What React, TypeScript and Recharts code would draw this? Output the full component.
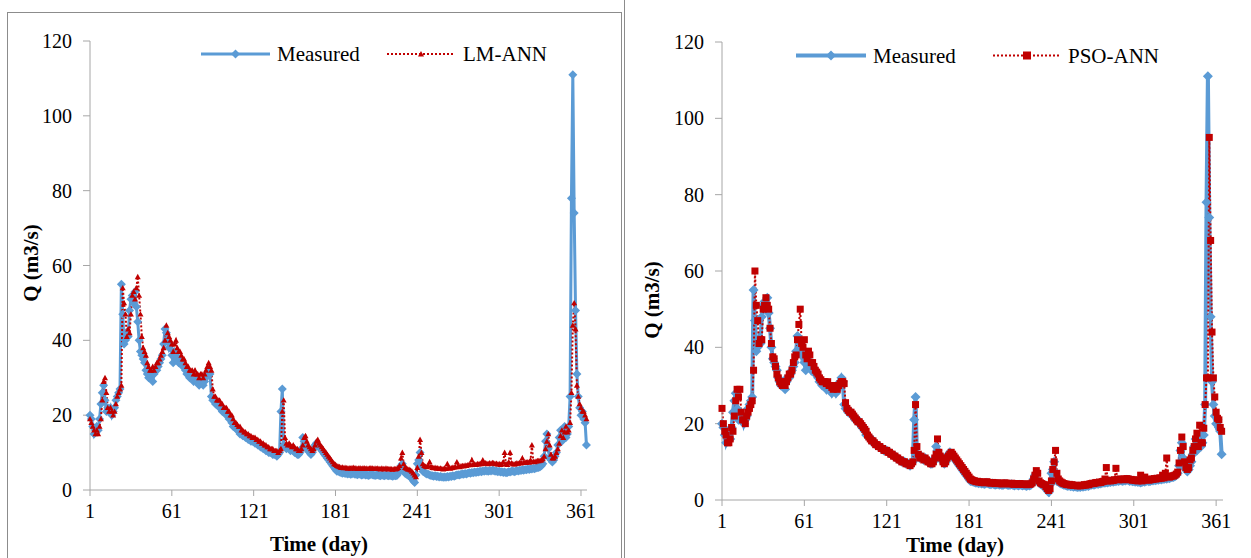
import React from 'react';
import { LineChart, Line, XAxis, YAxis } from 'recharts';

// Daily discharge (m3/s), day 1..365
const measured: number[] = [
  20, 19, 17, 15, 16, 17, 16, 19, 23, 26,
  28, 24, 21, 22, 21, 22, 20, 21, 22, 24,
  25, 26, 27, 55, 47, 39, 40, 42, 41, 48,
  51, 52, 50, 53, 49, 45, 40, 37, 36, 35,
  34, 32, 31, 30, 30, 31, 29, 31, 32, 32,
  33, 34, 35, 36, 39, 43, 42, 40, 38, 39,
  36, 34, 37, 36, 35, 34, 35, 34, 33, 33,
  32, 31, 31, 30, 30, 30, 29, 30, 29, 29,
  28, 29, 29, 28, 29, 30, 31, 32, 31, 25,
  24, 24, 23, 23, 23, 22, 22, 21, 21, 21,
  20, 20, 19, 19, 18, 17, 17, 16.5, 16, 16,
  15, 15, 14.5, 14.5, 14, 14, 13.5, 13.5, 13, 13,
  13, 12.5, 12.5, 12, 12, 11.5, 11.5, 11, 11, 10.5,
  10.5, 10, 10, 10, 9.5, 9.5, 9.5, 9, 9.5, 10,
  21, 27, 12, 11.5, 11, 11.5, 11, 10.5, 11, 10.5,
  10, 10, 9.5, 9.5, 10, 11, 14, 13, 12, 11,
  10.5, 10, 9.5, 10, 11, 12, 12.5, 12, 11.5, 11,
  10.5, 10, 9.5, 9, 8.5, 8, 7.5, 7, 6.5, 6,
  5.5, 5, 5, 4.8, 4.7, 4.5, 4.6, 4.4, 4.5, 4.3,
  4.4, 4.2, 4.3, 4.5, 4.3, 4.2, 4.1, 4.3, 4.2, 4.0,
  4.1, 4.2, 4.0, 4.1, 3.9, 4.0, 4.2, 4.1, 4.0, 3.9,
  4.0, 4.1, 3.9, 3.8, 4.0, 3.9, 3.8, 4.0, 3.9, 3.8,
  3.9, 3.8, 3.7, 3.9, 3.8, 3.9, 4.5, 5.5, 6.5, 7,
  5, 4.5, 4.2, 4, 3.8, 3.5, 3, 2.5, 2, 4,
  7, 8, 10, 6, 5, 4.8, 4.5, 4.3, 4.2, 4.0,
  3.9, 3.8, 3.7, 3.8, 3.6, 3.7, 3.5, 3.6, 3.5, 3.4,
  3.5, 3.4, 3.6, 3.5, 3.7, 3.6, 3.8, 3.7, 3.9, 4.0,
  4.1, 4.0, 4.2, 4.3, 4.2, 4.4, 4.3, 4.5, 4.6, 4.5,
  4.7, 4.6, 4.8, 4.7, 4.9, 4.8, 5.0, 4.9, 5.1, 5.0,
  5.2, 5.1, 5.0, 5.2, 5.1, 5.3, 5.2, 5.0, 5.1, 4.9,
  5.0, 4.8, 4.9, 4.7, 4.8, 4.6, 4.7, 4.9, 4.8, 5.0,
  5.1, 4.9, 5.0, 5.2, 5.1, 5.3, 5.2, 5.4, 5.3, 5.5,
  5.4, 5.6, 5.5, 5.7, 5.6, 5.8, 5.7, 5.9, 6.0, 6.0,
  6.2, 6.5, 7, 9, 13, 15, 11, 8.5, 8, 7.5,
  8, 9, 10, 12, 14, 16, 13, 15, 17, 14,
  15, 17, 25, 78, 111, 74, 48, 31, 25, 22,
  20, 21, 19, 18, 12,
];

const lmAnn: number[] = [
  19, 18, 17, 16, 15, 16, 15, 17, 19, 24,
  29, 30, 26, 22, 21, 22, 21, 20, 21, 23,
  25, 26, 27, 28, 54, 50, 47, 41, 43, 42,
  47, 52, 53, 51, 54, 57, 52, 47, 41, 38,
  37, 36, 34, 33, 32, 32, 33, 32, 33, 34,
  34, 35, 36, 37, 38, 40, 44, 42, 41, 40,
  39, 37, 39, 40, 38, 37, 37, 36, 35, 35,
  34, 33, 33, 32, 32, 32, 31, 32, 31, 31,
  30, 31, 31, 30, 31, 32, 33, 34, 33, 32,
  27, 25, 25, 24, 24, 24, 23, 23, 22, 22,
  22, 21, 21, 20, 20, 19, 18, 18, 17.5, 17,
  17, 16, 16, 15.5, 15.5, 15, 15, 14.5, 14.5, 14,
  14, 14, 13.5, 13.5, 13, 13, 12.5, 12.5, 12, 12,
  11.5, 11.5, 11, 11, 11, 10.5, 10.5, 10.5, 10, 10.5,
  11, 21, 24, 14, 12.5, 12, 12.5, 12, 11.5, 12,
  11.5, 11, 11, 10.5, 10.5, 11, 12, 14, 14.5, 13,
  12, 11.5, 11, 10.5, 11, 12, 13, 13.5, 12.5, 12,
  11.5, 11, 10.5, 10, 9.5, 9, 8.5, 8, 7.5, 7,
  6.8, 6.5, 6.3, 6.2, 6.0, 6.1, 5.9, 6.0, 5.9, 5.8,
  5.9, 5.8, 5.9, 6.0, 5.8, 5.9, 5.7, 5.8, 5.9, 5.7,
  5.8, 5.9, 5.7, 5.8, 5.7, 5.8, 5.9, 5.8, 5.7, 5.8,
  5.7, 5.8, 5.7, 5.6, 5.8, 5.7, 5.6, 5.8, 5.7, 5.6,
  5.7, 5.6, 5.5, 5.7, 5.6, 5.7, 6.0, 6.5, 8.5, 10,
  7, 6, 5.8, 5.6, 5.5, 5.3, 5, 4.5, 4, 3.5,
  6, 9, 13.5, 10, 7, 6.5, 6.3, 6.2, 6.5, 7.5,
  6.3, 6.0, 5.9, 6.0, 5.8, 5.9, 5.7, 5.8, 5.7, 5.6,
  5.8, 5.7, 7, 6.0, 5.8, 5.9, 6.0, 6.1, 6.2, 7.5,
  6.3, 6.2, 6.4, 6.5, 6.4, 6.6, 6.5, 6.7, 6.8, 6.7,
  8, 6.8, 6.9, 6.8, 7.0, 6.9, 7.1, 7.0, 8, 7.1,
  7.2, 7.1, 7.0, 7.2, 7.1, 7.3, 7.2, 7.0, 7.1, 6.9,
  7.0, 6.8, 6.9, 7.5, 10, 7.0, 6.8, 7.5, 10, 7.2,
  7.0, 6.9, 7.0, 7.2, 7.1, 7.3, 7.2, 8.5, 7.3, 7.4,
  7.4, 7.5, 7.4, 8, 12, 7.6, 7.5, 7.7, 7.8, 7.8,
  7.9, 8, 8.3, 9, 11, 13, 15, 12, 9.5, 8.5,
  8.5, 9, 10, 11, 12.5, 14.5, 16, 14, 15.5, 17,
  15.5, 16, 18, 26, 44, 50, 43, 28, 25, 23,
  22, 21, 21, 20, 19,
];

const psoAnn: number[] = [
  24, 20, 18, 17, 15, 15, 16, 19, 18, 22,
  26, 29, 27, 29, 23, 21, 21, 20, 22, 23,
  24, 25, 26, 34, 60, 51, 47, 41, 42, 42,
  50, 51, 53, 51, 50, 45, 41, 37.5, 37, 35,
  33, 32, 31, 30.5, 30, 31, 30, 31, 32, 33,
  33, 34, 36, 37.5, 38, 42, 46, 50, 41, 40,
  42, 38, 37, 39, 38, 36, 36, 35, 34, 33.5,
  33, 32, 31.5, 31, 31, 31, 30.5, 31, 30, 30,
  29.5, 29, 30, 29.5, 29, 30, 30.5, 31, 31, 30.5,
  25.5, 24, 23.5, 23, 23, 22.5, 22, 21.5, 21, 20.5,
  20.5, 20, 19.5, 19, 18.5, 18, 17, 16.5, 16, 15.5,
  15.5, 15, 14.5, 14.5, 14, 14, 13.5, 13.5, 13, 13,
  13, 12.5, 12.5, 12, 12, 11.5, 11.5, 11, 11, 10.5,
  10.5, 10, 10, 10, 9.5, 9.5, 9.5, 9, 9.5, 10,
  13, 25, 14, 12, 11, 11.5, 11, 10.5, 11, 10.5,
  10, 10, 9.5, 9.5, 10, 11, 12, 16, 12.5, 11.5,
  11, 10, 9.5, 10, 11, 11.5, 12, 12.5, 12, 11.5,
  11, 10.5, 10, 9.5, 9, 8.5, 8, 7.5, 7, 6.5,
  6, 5.5, 5.3, 5.1, 5, 4.8, 4.9, 4.7, 4.8, 4.6,
  4.7, 4.5, 4.6, 4.8, 4.6, 4.5, 4.4, 4.6, 4.5, 4.3,
  4.4, 4.5, 4.3, 4.4, 4.2, 4.3, 4.5, 4.4, 4.3, 4.2,
  4.3, 4.4, 4.2, 4.1, 4.3, 4.2, 4.1, 4.3, 4.2, 4.1,
  4.2, 4.1, 4.0, 4.2, 4.1, 4.2, 4.5, 5.5, 6.5, 7.7,
  7, 5, 4.5, 4.3, 4.1, 4.0, 3.5, 3, 2.5, 3,
  5, 8, 10, 13, 7, 5.5, 5, 4.7, 4.5, 4.3,
  4.2, 4.1, 4.0, 4.1, 3.9, 4.0, 3.8, 3.9, 3.8, 3.7,
  3.8, 3.7, 3.9, 3.8, 4.0, 3.9, 4.1, 4.0, 4.2, 4.3,
  4.4, 4.3, 4.5, 4.6, 4.5, 4.7, 4.6, 4.8, 4.9, 5.5,
  8.5, 5.0, 5.1, 5.0, 5.2, 5.1, 5.3, 8.3, 5.4, 5.3,
  5.5, 5.4, 5.3, 5.5, 5.4, 5.6, 5.5, 5.3, 5.4, 5.2,
  5.3, 5.1, 5.2, 5.0, 5.1, 6.5, 5.0, 5.2, 6.0, 5.3,
  5.4, 5.2, 5.3, 5.5, 5.4, 5.6, 5.5, 5.7, 5.6, 5.8,
  5.7, 6.5, 5.8, 7, 11, 6.1, 6.0, 6.2, 6.3, 6.3,
  6.5, 6.8, 7.3, 9.7, 13, 16.5, 14, 10, 8.5, 8,
  8.5, 10.5, 11, 13, 14, 16, 17.5, 14, 19.6, 15,
  15, 18.8, 25, 32, 32, 95, 68, 44, 32, 27,
  23, 21.4, 21, 19, 18,
];

const xTicks = [1, 61, 121, 181, 241, 301, 361];
const yTicks = [0, 20, 40, 60, 80, 100, 120];

const leftData = measured.map((m, i) => ({ day: i + 1, measured: m, model: lmAnn[i] }));
const rightData = measured.map((m, i) => ({ day: i + 1, measured: m, model: psoAnn[i] }));

const BLUE = '#5b9bd5';
const RED = '#c00000';
const AXIS = '#a6a6a6';
const FONT = 'Liberation Serif';

const diamondDot = (r: number) => (props: any) => {
  const { cx, cy, index } = props;
  if (cx == null || cy == null || isNaN(cy)) return <g key={`d-${index}`} />;
  return (
    <path
      key={`d-${index}`}
      d={`M${cx},${cy - r}L${cx + r},${cy}L${cx},${cy + r}L${cx - r},${cy}Z`}
      fill={BLUE}
    />
  );
};

const triangleDot = (r: number) => (props: any) => {
  const { cx, cy, index } = props;
  if (cx == null || cy == null || isNaN(cy)) return <g key={`t-${index}`} />;
  return (
    <path
      key={`t-${index}`}
      d={`M${cx},${cy - r}L${cx + r},${cy + r * 0.8}L${cx - r},${cy + r * 0.8}Z`}
      fill={RED}
    />
  );
};

const squareDot = (s: number) => (props: any) => {
  const { cx, cy, index } = props;
  if (cx == null || cy == null || isNaN(cy)) return <g key={`s-${index}`} />;
  return <rect key={`s-${index}`} x={cx - s} y={cy - s} width={2 * s} height={2 * s} fill={RED} />;
};

const XTick = (props: any) => {
  const { x, y, payload } = props;
  return (
    <text x={x} y={y} dy="0.71em" textAnchor="middle" fill="#000" fontSize={20} fontFamily={FONT} style={{ fontFamily: FONT }}>
      {payload.value}
    </text>
  );
};

const YTick = (props: any) => {
  const { x, y, payload } = props;
  return (
    <text x={x} y={y} dy="0.355em" textAnchor="end" fill="#000" fontSize={20} fontFamily={FONT} style={{ fontFamily: FONT }}>
      {payload.value}
    </text>
  );
};

export default function App() {
  return (
    <div style={{ position: 'absolute', left: 0, top: 0, width: 1251, height: 558, overflow: 'hidden', background: '#fff', fontFamily: FONT }}>
      {/* frames */}
      <div style={{ position: 'absolute', left: 7, top: 12, width: 613, height: 600, border: '1px solid #8c8c8c' }} />
      <div style={{ position: 'absolute', left: 624, top: -5, width: 700, height: 620, border: '1px solid #8c8c8c' }} />

      {/* Left chart */}
      <div style={{ position: 'absolute', left: 0, top: 0 }}>
        <LineChart width={620} height={558} data={leftData} margin={{ top: 41, right: 33, bottom: 38, left: 30 }}>
          <XAxis
            dataKey="day"
            type="number"
            domain={[1, 365.4]}
            ticks={xTicks}
            interval={0}
            axisLine={{ stroke: AXIS }}
            tickLine={{ stroke: AXIS }}
            tickSize={6}
            tickMargin={8}
            tick={<XTick />}
            height={30}
          />
          <YAxis
            type="number"
            domain={[0, 120]}
            ticks={yTicks}
            interval={0}
            axisLine={{ stroke: AXIS }}
            tickLine={{ stroke: AXIS }}
            tickSize={7}
            tickMargin={11}
            tick={<YTick />}
            width={60}
          />
          <Line type="linear" dataKey="measured" stroke={BLUE} strokeWidth={3} dot={diamondDot(4.5)} activeDot={false} isAnimationActive={false} />
          <Line type="linear" dataKey="model" stroke={RED} strokeWidth={2} strokeDasharray="2 2" dot={triangleDot(3)} activeDot={false} isAnimationActive={false} />
        </LineChart>
      </div>

      {/* Right chart */}
      <div style={{ position: 'absolute', left: 622, top: 0 }}>
        <LineChart width={629} height={558} data={rightData} margin={{ top: 42, right: 28, bottom: 28, left: 40 }}>
          <XAxis
            dataKey="day"
            type="number"
            domain={[1, 366]}
            ticks={xTicks}
            interval={0}
            axisLine={{ stroke: AXIS }}
            tickLine={{ stroke: AXIS }}
            tickSize={6}
            tickMargin={8}
            tick={<XTick />}
            height={30}
          />
          <YAxis
            type="number"
            domain={[0, 120]}
            ticks={yTicks}
            interval={0}
            axisLine={{ stroke: AXIS }}
            tickLine={{ stroke: AXIS }}
            tickSize={7}
            tickMargin={11}
            tick={<YTick />}
            width={60}
          />
          <Line type="linear" dataKey="measured" stroke={BLUE} strokeWidth={4} dot={diamondDot(5)} activeDot={false} isAnimationActive={false} />
          <Line type="linear" dataKey="model" stroke={RED} strokeWidth={2} strokeDasharray="2 2" dot={squareDot(3.5)} activeDot={false} isAnimationActive={false} />
        </LineChart>
      </div>

      {/* Legends and axis titles */}
      <svg width={1251} height={558} style={{ position: 'absolute', left: 0, top: 0, pointerEvents: 'none' }}>
        <g fontFamily={FONT} fill="#000">
          {/* left legend */}
          <line x1={201} y1={54} x2={270} y2={54} stroke={BLUE} strokeWidth={3} />
          <path d="M235.5,49.5L240,54L235.5,58.5L231,54Z" fill={BLUE} />
          <text x={277} y={61} fontSize={21}>Measured</text>
          <line x1={387} y1={54} x2={455} y2={54} stroke={RED} strokeWidth={2} strokeDasharray="2 2" />
          <path d="M421,51L424,56.4L418,56.4Z" fill={RED} />
          <text x={463} y={61} fontSize={21}>LM-ANN</text>

          {/* right legend */}
          <line x1={796} y1={55.5} x2={866} y2={55.5} stroke={BLUE} strokeWidth={4} />
          <path d="M831,50.5L836,55.5L831,60.5L826,55.5Z" fill={BLUE} />
          <text x={873} y={63} fontSize={21}>Measured</text>
          <line x1={993} y1={55.5} x2={1060} y2={55.5} stroke={RED} strokeWidth={2} strokeDasharray="2 2" />
          <rect x={1023} y={51.5} width={8} height={8} fill={RED} />
          <text x={1068} y={63} fontSize={21}>PSO-ANN</text>

          {/* axis titles */}
          <text x={319} y={551} fontSize={21} fontWeight="bold" textAnchor="middle">Time (day)</text>
          <text x={955} y={552} fontSize={21} fontWeight="bold" textAnchor="middle">Time (day)</text>
          <text x={38} y={263} fontSize={21} fontWeight="bold" textAnchor="middle" transform="rotate(-90 38 263)">Q (m3/s)</text>
          <text x={659} y={300} fontSize={21} fontWeight="bold" textAnchor="middle" transform="rotate(-90 659 300)">Q (m3/s)</text>
        </g>
      </svg>
    </div>
  );
}
